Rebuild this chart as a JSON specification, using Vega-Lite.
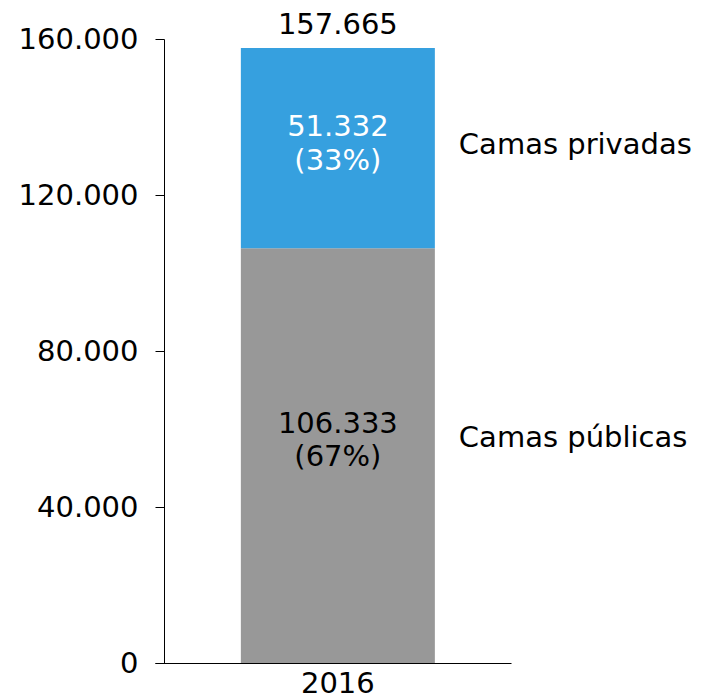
{
  "$schema": "https://vega.github.io/schema/vega-lite/v6.json",
  "width": 356,
  "height": 624,
  "autosize": "none",
  "padding": {"left": 155, "top": 39, "right": 196, "bottom": 34},
  "config": {
    "view": {"stroke": null},
    "locale": {"number": {"decimal": ",", "thousands": ".", "grouping": [3], "currency": ["", " €"]}},
    "text": {"font": "DejaVu Sans", "fontSize": 29}
  },
  "data": {
    "values": [
      {"year": "2016", "category": "Camas públicas", "value": 106333, "pct": "(67%)"},
      {"year": "2016", "category": "Camas privadas", "value": 51332, "pct": "(33%)"}
    ]
  },
  "transform": [
    {"stack": "value", "groupby": ["year"], "sort": [{"field": "category", "order": "descending"}], "as": ["y0", "y1"]},
    {"calculate": "(datum.y0 + datum.y1) / 2", "as": "mid"}
  ],
  "encoding": {
    "x": {
      "field": "year", "type": "nominal",
      "scale": {"type": "band", "paddingInner": 0, "paddingOuter": 0.4175, "align": 0.53},
      "axis": {"title": null, "labelAngle": 0, "ticks": false, "tickSize": 0, "labelPadding": 6, "labelFont": "DejaVu Sans", "labelFontSize": 29, "labelColor": "#000000", "domainColor": "#000000", "domainWidth": 1}
    }
  },
  "layer": [
    {
      "mark": {"type": "bar"},
      "encoding": {
        "y": {"field": "y1", "type": "quantitative", "scale": {"domain": [0, 160000], "nice": false},
          "axis": {"title": null, "values": [0, 40000, 80000, 120000, 160000], "format": ",.0f", "grid": false, "offset": -9, "tickSize": 9, "labelPadding": 17, "labelFont": "DejaVu Sans", "labelFontSize": 29, "labelColor": "#000000", "domainColor": "#000000", "tickColor": "#000000", "domainWidth": 1, "tickWidth": 1}},
        "y2": {"field": "y0"},
        "color": {"field": "category", "type": "nominal", "scale": {"domain": ["Camas públicas", "Camas privadas"], "range": ["#989898", "#36A0DF"]}, "legend": null}
      }
    },
    {
      "transform": [{"aggregate": [{"op": "max", "field": "y1", "as": "total"}], "groupby": ["year"]}],
      "mark": {"type": "text", "baseline": "alphabetic", "dy": -14, "color": "#000000"},
      "encoding": {
        "y": {"field": "total", "type": "quantitative"},
        "text": {"field": "total", "type": "quantitative", "format": ","}
      }
    },
    {
      "transform": [{"filter": "datum.category === 'Camas privadas'"}],
      "layer": [
        {"mark": {"type": "text", "baseline": "alphabetic", "dy": -12, "color": "#ffffff"},
         "encoding": {"y": {"field": "mid", "type": "quantitative"}, "text": {"field": "value", "type": "quantitative", "format": ","}}},
        {"mark": {"type": "text", "baseline": "alphabetic", "dy": 22, "color": "#ffffff"},
         "encoding": {"y": {"field": "mid", "type": "quantitative"}, "text": {"field": "pct", "type": "nominal"}}},
        {"mark": {"type": "text", "baseline": "alphabetic", "align": "left", "dx": 24, "dy": 6, "color": "#000000"},
         "encoding": {"x": {"field": "year", "type": "nominal", "bandPosition": 1}, "y": {"field": "mid", "type": "quantitative"}, "text": {"field": "category", "type": "nominal"}}}
      ]
    },
    {
      "transform": [{"filter": "datum.category === 'Camas públicas'"}],
      "layer": [
        {"mark": {"type": "text", "baseline": "alphabetic", "dy": -23, "color": "#000000"},
         "encoding": {"y": {"field": "mid", "type": "quantitative"}, "text": {"field": "value", "type": "quantitative", "format": ","}}},
        {"mark": {"type": "text", "baseline": "alphabetic", "dy": 10, "color": "#000000"},
         "encoding": {"y": {"field": "mid", "type": "quantitative"}, "text": {"field": "pct", "type": "nominal"}}},
        {"mark": {"type": "text", "baseline": "alphabetic", "align": "left", "dx": 24, "dy": -9, "color": "#000000"},
         "encoding": {"x": {"field": "year", "type": "nominal", "bandPosition": 1}, "y": {"field": "mid", "type": "quantitative"}, "text": {"field": "category", "type": "nominal"}}}
      ]
    }
  ]
}
